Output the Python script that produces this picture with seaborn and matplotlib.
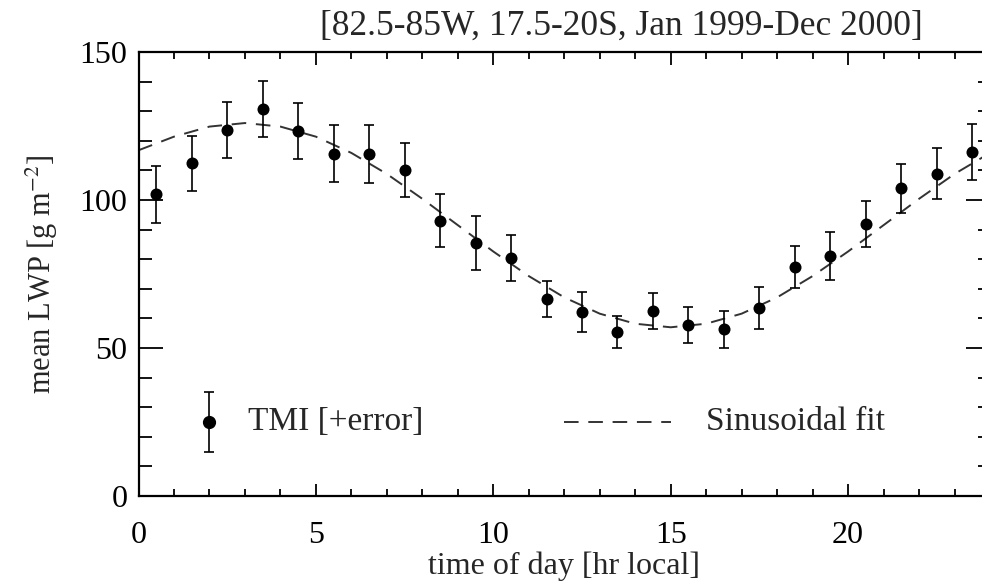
import numpy as np
import pandas as pd
import seaborn as sns
import matplotlib.pyplot as plt
from matplotlib.ticker import MultipleLocator

# -------------------------------
# Data
# -------------------------------
hours = [0.5, 1.5, 2.5, 3.5, 4.5, 5.5, 6.5, 7.5, 8.5, 9.5, 10.5, 11.5,
         12.5, 13.5, 14.5, 15.5, 16.5, 17.5, 18.5, 19.5, 20.5, 21.5, 22.5, 23.5]
lwp = [101.9, 112.4, 123.6, 130.7, 123.3, 115.6, 115.5, 110.1, 93.0, 85.4, 80.5, 66.6,
       62.1, 55.5, 62.5, 57.8, 56.3, 63.5, 77.4, 81.0, 92.0, 104.0, 108.8, 116.2]
lwp_err = [9.6, 9.3, 9.4, 9.4, 9.4, 9.6, 9.9, 9.2, 8.9, 9.1, 7.8, 6.2,
           6.8, 5.4, 6.2, 6.2, 6.2, 7.0, 7.2, 8.1, 7.8, 8.3, 8.6, 9.6]

fit_hours = list(range(0, 25))
fit_lwp = [116.8, 121.4, 124.8, 126.0, 124.8, 121.4, 115.9, 108.8, 100.4, 91.5, 82.6, 74.3,
           67.1, 61.6, 58.2, 57.0, 58.2, 61.6, 67.1, 74.3, 82.6, 91.5, 100.4, 108.8, 115.9]

df = pd.DataFrame({"hour": hours, "lwp": lwp, "err": lwp_err})
fit = pd.DataFrame({"hour": fit_hours, "lwp": fit_lwp})

# -------------------------------
# Style
# -------------------------------
sns.set_style("ticks")
plt.rcParams["font.family"] = ["Liberation Serif", "DejaVu Serif"]
plt.rcParams["mathtext.fontset"] = "stix"

fig = plt.figure(figsize=(9.82, 5.85), dpi=100)
ax = fig.add_axes([138.5 / 982, 89 / 585, 851.5 / 982, 444 / 585])

# sinusoidal fit
sns.lineplot(data=fit, x="hour", y="lwp", ax=ax, color="#333333", lw=1.4,
             dashes=False, legend=False)
ax.lines[-1].set_dashes((7.5, 5))

# TMI points with error bars
ax.errorbar(df["hour"], df["lwp"], yerr=df["err"], fmt="none", ecolor="black",
            elinewidth=1.2, capsize=3.5, capthick=1.2, zorder=3)
sns.scatterplot(data=df, x="hour", y="lwp", ax=ax, color="black", s=75,
                edgecolor="black", linewidth=0, zorder=4)

# hand-drawn legend, like the original
ax.errorbar([2.0], [25], yerr=[10], fmt="o", color="black", ms=8.5,
            elinewidth=1.2, capsize=3.5, capthick=1.2)
ax.text(3.1, 25, "TMI [+error]", fontsize=24, va="center", ha="left")
ax.plot([12.0, 15.0], [25, 25], color="#333333", lw=1.4, dashes=(7.5, 5))
ax.text(16.0, 25, "Sinusoidal fit", fontsize=24, va="center", ha="left")

# axes
ax.set_xlim(0, 24)
ax.set_ylim(0, 150)
ax.xaxis.set_major_locator(MultipleLocator(5))
ax.xaxis.set_minor_locator(MultipleLocator(1))
ax.yaxis.set_major_locator(MultipleLocator(50))
ax.yaxis.set_minor_locator(MultipleLocator(10))
ax.tick_params(which="both", direction="in", top=True, right=True, width=1.3,
               labelsize=23, colors="black")
ax.tick_params(axis="x", which="major", length=9, pad=18)
ax.tick_params(axis="x", which="minor", length=5)
ax.tick_params(axis="y", which="major", length=17, pad=8)
ax.tick_params(axis="y", which="minor", length=9)
for s in ax.spines.values():
    s.set_linewidth(1.6)
    s.set_color("black")

ax.set_xlabel("time of day [hr local]", fontsize=23, labelpad=1)
ax.set_ylabel("mean LWP [g m$^{-2}$]", fontsize=22, labelpad=14)
fig.text(621 / 982, 1 - 26 / 585, "[82.5-85W, 17.5-20S, Jan 1999-Dec 2000]",
         fontsize=25.5, ha="center", va="center")

fig.savefig("out.png", dpi=100)
